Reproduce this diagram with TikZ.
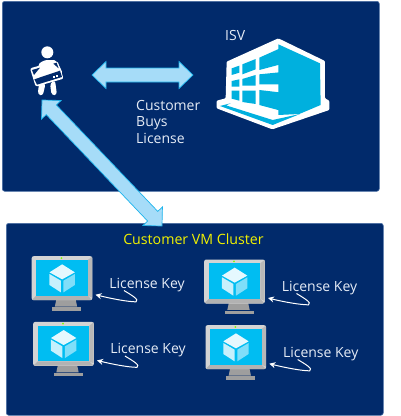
\documentclass[tikz,border=0pt]{standalone}
\usepackage{fontspec}
\setmainfont{Open Sans}
\usetikzlibrary{calc,arrows.meta}
\definecolor{navy}{HTML}{012A6B}
\definecolor{paneledge}{HTML}{4A6FA5}
\definecolor{arrowfill}{HTML}{A6DCF8}
\definecolor{arrowedge}{HTML}{1CB4EC}
\definecolor{bldblue}{HTML}{00B0DE}
\definecolor{screenblue}{HTML}{00BDF2}
\definecolor{txt}{HTML}{E6ECF6}
\definecolor{vmyellow}{HTML}{F2F200}
\tikzset{
  panel/.style={fill=navy,draw=paneledge,line width=.6pt,rounded corners=2.5pt},
  label/.style={text=txt,font=\fontsize{14}{16.5}\selectfont,inner sep=0pt},
  blockarrow/.style={fill=arrowfill,draw=arrowedge,line width=.7pt,line join=miter},
  keyarrow/.style={draw=white,line width=1pt,-{Stealth[length=6pt,width=6pt]}},
  monitorbox/.style={fill=black!17,rounded corners=2pt,minimum width=60.6pt,minimum height=44pt,inner sep=0pt,anchor=north west},
  bld/.style={fill=bldblue,draw=none},
}
% arrow outline between two named points: #1,#2 = ends, #3 half shaft, #4 head length, #5 half head
\newcommand{\onewayhead}[5]{
  (#1)
  -- ($($(#1)!#4!(#2)$)!#5!90:(#2)$)
  -- ($($(#1)!#4!(#2)$)!#3!90:(#2)$)
  -- ($($(#2)!#4!(#1)$)!#3!-90:(#1)$)
  -- ($($(#2)!#4!(#1)$)!#5!-90:(#1)$)
  -- (#2)
  -- ($($(#2)!#4!(#1)$)!#5!90:(#1)$)
  -- ($($(#2)!#4!(#1)$)!#3!90:(#1)$)
  -- ($($(#1)!#4!(#2)$)!#3!-90:(#2)$)
  -- ($($(#1)!#4!(#2)$)!#5!-90:(#2)$)
  -- cycle}
% monitor: name, left, top
\newcommand{\monitor}[3]{
  \begin{scope}[shift={(#2,#3)},x=.3333pt,y=-.3333pt]
    \fill[black!38] (75,128) -- (132,128) -- (137,152) -- (70,152) -- cycle;
    \fill[black!38] (62,154) -- (150,154) -- (150,164) -- (62,164) -- cycle;
    \node[monitorbox] (#1) at (0,0) {};
    \fill[black!30] (3,130) -- (14,119) -- (169,119) -- (180,130) -- (176,132) -- (6,132) -- cycle;
    \fill[black!28] (169,12) -- (182,2) -- (182,125) -- (169,119) -- cycle;
    \fill[screenblue] (14,12) rectangle (169,119);
    \fill[green!50!yellow] (90,6) circle (3);
    \fill[white!90!screenblue] (92,25) -- (130,49) -- (92,70) -- (54,49) -- cycle;
    \fill[white!78!screenblue] (54,54) -- (88,74) -- (88,109) -- (54,87) -- cycle;
    \fill[white!50!screenblue] (96,74) -- (130,54) -- (130,87) -- (96,109) -- cycle;
  \end{scope}}
\begin{document}
\begin{tikzpicture}[x=1pt,y=-1pt]
\useasboundingbox (0,0) rectangle (400,416);
\fill[white] (0,0) rectangle (400,416);
\node[panel,minimum width=377pt,minimum height=190pt,anchor=north west,inner sep=0pt] (isvpanel) at (2,1) {};
\node[panel,minimum width=377pt,minimum height=192pt,anchor=north west,inner sep=0pt] (vmpanel) at (6,223) {};

% customer
\begin{scope}[x=.3333pt,y=-.3333pt]
  \fill[white] (142,157) circle (18);
  \fill[white,rounded corners=4pt] (112,200) .. controls (120,188) and (132,181) .. (150,180) .. controls (168,180) and (180,200) .. (190,225) -- (165,240) -- (118,240) -- cycle;
  \fill[white,rounded corners=3pt] (118,245) -- (113,283) -- (128,288) -- (137,250) -- cycle;
  \fill[white,rounded corners=3pt] (150,250) -- (155,286) -- (171,285) -- (165,240) -- cycle;
  \fill[white,rounded corners=2pt] (90,205) -- (172,182) -- (191,236) -- (107,260) -- cycle;
  \fill[navy] (96,210) -- (120,203) -- (102,225) -- cycle;
  \fill[navy] (160,191) -- (170,188) -- (176,205) -- cycle;
  \fill[navy] (103,238) -- (180,212) -- (186,231) -- (111,254) -- cycle;
  \fill[white] (158,228) rectangle (165,235);
  \fill[white] (168,225) rectangle (175,232);
\end{scope}
\coordinate (customer) at (42,100);

% ISV building
\begin{scope}[shift={(210,30)},x=.3333pt,y=-.3333pt]
  \fill[white,rounded corners=1pt] (205,25) -- (345,93) -- (345,205) -- (358,212) -- (358,240) -- (187,298) -- (20,235) -- (20,212) -- (47,205) -- (50,95) -- cycle;
  \fill[bld] (205,43) -- (330,100) -- (332,225) -- (268,252) -- (205,255) -- cycle;
  \fill[bld] (65,115) -- (88,107) -- (88,128) -- (65,135) -- cycle;
  \fill[bld] (97,103) -- (137,87) -- (137,118) -- (97,133) -- cycle;
  \fill[bld] (148,83) -- (208,56) -- (208,104) -- (148,120) -- cycle;
  \fill[bld] (65,153) -- (88,148) -- (88,170) -- (65,170) -- cycle;
  \fill[bld] (97,147) -- (137,135) -- (137,167) -- (97,167) -- cycle;
  \fill[bld] (148,133) -- (208,127) -- (208,163) -- (148,163) -- cycle;
  \fill[bld] (65,182) -- (88,182) -- (88,212) -- (65,206) -- cycle;
  \fill[bld] (97,182) -- (137,182) -- (137,222) -- (97,216) -- cycle;
  \fill[bld] (148,180) -- (208,187) -- (208,241) -- (148,225) -- cycle;
  \fill[bld] (30,228) -- (62,220) -- (48,226) -- (188,270) -- (270,252) -- (188,285) -- cycle;
\end{scope}
\coordinate (isv) at (193,75);
\coordinate (buyer) at (92,75);
\coordinate (cluster) at (162,226);

\draw[blockarrow] \onewayhead{buyer}{isv}{7pt}{14pt}{13.5pt};
\draw[blockarrow] \onewayhead{customer}{cluster}{7pt}{13.5pt}{13.5pt};

\node[label,anchor=west] (isvlabel) at (225,35.5) {ISV};
\node[label,anchor=north west,align=left] (buys) at (136,100) {Customer\\Buys\\License};
\node[anchor=center,inner sep=0pt,text=vmyellow,font=\fontsize{14.2}{16}\selectfont] (vmtitle) at (193.5,239.5) {Customer VM Cluster};

\monitor{m1}{31.5}{256}
\monitor{m2}{33}{321.7}
\monitor{m3}{204}{259.3}
\monitor{m4}{205.3}{325}

\node[label,anchor=center] (k1) at (147,285) {License Key};
\node[label,anchor=center] (k2) at (148,350.5) {License Key};
\node[label,anchor=center] (k3) at (319.5,288) {License Key};
\node[label,anchor=center] (k4) at (320.7,354) {License Key};

\foreach \k/\m in {k1/m1,k2/m2,k3/m3,k4/m4}{
  \draw[keyarrow] ($(\k.south)+(-23,-1.5)$) .. controls +(7,4.3) and +(4,-2) .. ++(12,11.3) .. controls +(-8,0) and +(16,4) .. ($(\m.south east)+(3,-5.7)$);
}
\end{tikzpicture}
\end{document}
